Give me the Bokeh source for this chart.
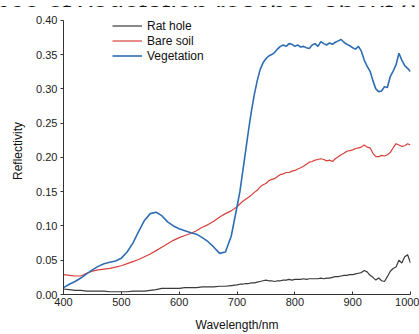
from bokeh.plotting import figure
from bokeh.models import Range1d, FixedTicker, Legend, LegendItem, Label, NumeralTickFormatter
from bokeh.layouts import column
from bokeh.embed import file_html
from bokeh.resources import INLINE

wavelength = [400, 410, 420, 430, 440, 450, 460, 470, 480, 490,
              500, 510, 520, 530, 540, 550, 560, 570, 580, 590,
              600, 610, 620, 630, 640, 650, 660, 670, 680, 690,
              700, 705, 710, 715, 720, 725, 730, 735, 740, 745,
              750, 755, 760, 765, 770, 775, 780, 785, 790, 795,
              800, 805, 810, 815, 820, 825, 830, 835, 840, 845,
              850, 855, 860, 865, 870, 875, 880, 885, 890, 895,
              900, 905, 910, 915, 920, 925, 930, 935, 940, 945,
              950, 955, 960, 965, 970, 975, 980, 985, 990, 995, 1000]

rat_hole = [0.008, 0.007, 0.006, 0.006, 0.005, 0.005, 0.005, 0.005, 0.004, 0.004,
            0.004, 0.004, 0.005, 0.005, 0.005, 0.006, 0.007, 0.009, 0.009, 0.009,
            0.009, 0.010, 0.010, 0.010, 0.011, 0.011, 0.011, 0.012, 0.012, 0.013,
            0.014, 0.015, 0.015, 0.016, 0.016, 0.017, 0.017, 0.018, 0.019, 0.020,
            0.021, 0.020, 0.020, 0.019, 0.020, 0.020, 0.021, 0.021, 0.022, 0.021,
            0.022, 0.022, 0.022, 0.023, 0.022, 0.023, 0.023, 0.023, 0.023, 0.024,
            0.023, 0.024, 0.024, 0.025, 0.026, 0.026, 0.027, 0.028, 0.028, 0.029,
            0.029, 0.030, 0.031, 0.032, 0.035, 0.033, 0.028, 0.025, 0.021, 0.024,
            0.020, 0.019, 0.026, 0.034, 0.038, 0.040, 0.050, 0.046, 0.055, 0.058, 0.046]

bare_soil = [0.029, 0.028, 0.027, 0.027, 0.031, 0.034, 0.036, 0.037, 0.038, 0.040,
             0.042, 0.045, 0.048, 0.051, 0.055, 0.059, 0.064, 0.069, 0.074, 0.079,
             0.083, 0.086, 0.089, 0.093, 0.098, 0.102, 0.107, 0.113, 0.118, 0.122,
             0.128, 0.132, 0.136, 0.139, 0.142, 0.145, 0.149, 0.152, 0.157, 0.160,
             0.162, 0.166, 0.168, 0.169, 0.172, 0.175, 0.176, 0.178, 0.178, 0.180,
             0.181, 0.183, 0.185, 0.187, 0.190, 0.193, 0.194, 0.196, 0.197, 0.198,
             0.197, 0.195, 0.196, 0.194, 0.198, 0.201, 0.204, 0.206, 0.209, 0.210,
             0.211, 0.213, 0.214, 0.215, 0.218, 0.215, 0.214, 0.206, 0.201, 0.201,
             0.203, 0.202, 0.204, 0.207, 0.214, 0.220, 0.218, 0.216, 0.217, 0.220, 0.218]

vegetation = [0.010, 0.015, 0.019, 0.024, 0.030, 0.036, 0.041, 0.045, 0.047, 0.049,
              0.053, 0.062, 0.075, 0.092, 0.108, 0.118, 0.120, 0.115, 0.106, 0.100,
              0.096, 0.093, 0.090, 0.088, 0.083, 0.077, 0.069, 0.060, 0.062, 0.085,
              0.128, 0.150, 0.180, 0.210, 0.240, 0.268, 0.292, 0.312, 0.328, 0.338,
              0.344, 0.348, 0.350, 0.353, 0.358, 0.362, 0.364, 0.362, 0.366, 0.365,
              0.362, 0.364, 0.361, 0.362, 0.360, 0.359, 0.364, 0.366, 0.362, 0.369,
              0.366, 0.364, 0.367, 0.365, 0.368, 0.370, 0.372, 0.368, 0.365, 0.363,
              0.360, 0.358, 0.362, 0.355, 0.342, 0.333, 0.326, 0.312, 0.300, 0.296,
              0.297, 0.303, 0.302, 0.318, 0.326, 0.335, 0.352, 0.342, 0.334, 0.330, 0.325]

x_ticks = [400, 500, 600, 700, 800, 900, 1000]
y_ticks = [0.0, 0.05, 0.10, 0.15, 0.20, 0.25, 0.30, 0.35, 0.40]
series_names = ["Rat hole", "Bare soil", "Vegetation"]
caption_fragment = "nce of vegetation reaches about 0.4"

FONT = "Liberation Sans"

# strip of surrounding caption text, cut off at the top of the picture
top = figure(width=419, height=7, output_backend="svg", toolbar_location=None,
             x_range=Range1d(0, 419), y_range=Range1d(0, 7),
             x_axis_location=None, y_axis_location=None, min_border=0,
             frame_align=False)
top.outline_line_color = None
top.xgrid.visible = False
top.ygrid.visible = False
top.add_layout(Label(x=-6, y=1, text=caption_fragment, text_font=FONT,
                     text_font_size="28px", text_color="#111111",
                     text_baseline="alphabetic", text_align="left"))

# main chart: frame reaches the top of its canvas; axis line bounded to 0..0.40
p = figure(width=419, height=327, output_backend="svg", toolbar_location=None,
           x_range=Range1d(400, 1000), y_range=Range1d(0, 0.4187),
           min_border_left=63, min_border_right=9, min_border_top=0, min_border_bottom=36,
           frame_align=False)
p.outline_line_color = None
p.xgrid.visible = False
p.ygrid.visible = False
p.background_fill_color = "white"
p.border_fill_color = "white"

r1 = p.line(wavelength, rat_hole, line_color="#3a3a3a", line_width=1.2)
r2 = p.line(wavelength, bare_soil, line_color="#d6403a", line_width=1.2)
r3 = p.line(wavelength, vegetation, line_color="#2f6db3", line_width=1.6)

legend = Legend(items=[LegendItem(label=series_names[0], renderers=[r1]),
                       LegendItem(label=series_names[1], renderers=[r2]),
                       LegendItem(label=series_names[2], renderers=[r3])],
                location=(49, 231), border_line_color=None, background_fill_alpha=0,
                padding=0, margin=0, spacing=0, glyph_width=30, glyph_height=15,
                label_height=15, label_standoff=5,
                label_text_font=FONT, label_text_font_size="12px", label_text_color="#111111")
p.add_layout(legend)

xa = p.xaxis[0]
xa.ticker = FixedTicker(ticks=x_ticks)
xa.minor_tick_line_color = None
xa.major_tick_in = 3
xa.major_tick_out = 0
xa.major_label_standoff = 3
xa.axis_label = "Wavelength/nm"
xa.axis_label_standoff = 9
xa.axis_label_text_font = FONT
xa.axis_label_text_font_size = "12px"
xa.axis_label_text_font_style = "normal"
xa.axis_label_text_color = "#111111"
xa.major_label_text_font = FONT
xa.major_label_text_font_size = "11px"
xa.major_label_text_color = "#222222"
xa.axis_line_color = "#333333"
xa.major_tick_line_color = "#333333"

ya = p.yaxis[0]
ya.ticker = FixedTicker(ticks=y_ticks)
ya.bounds = (0, 0.40)
ya.formatter = NumeralTickFormatter(format="0.00")
ya.minor_tick_line_color = None
ya.major_tick_in = 0
ya.major_tick_out = 3
ya.major_label_standoff = 3
ya.axis_label = "Reflectivity"
ya.axis_label_standoff = 8
ya.axis_label_text_font = FONT
ya.axis_label_text_font_size = "12px"
ya.axis_label_text_font_style = "normal"
ya.axis_label_text_color = "#111111"
ya.major_label_text_font = FONT
ya.major_label_text_font_size = "11px"
ya.major_label_text_color = "#222222"
ya.axis_line_color = "#333333"
ya.major_tick_line_color = "#333333"

layout = column(top, p, spacing=0)
open("out.html", "w").write(file_html(layout, INLINE))
